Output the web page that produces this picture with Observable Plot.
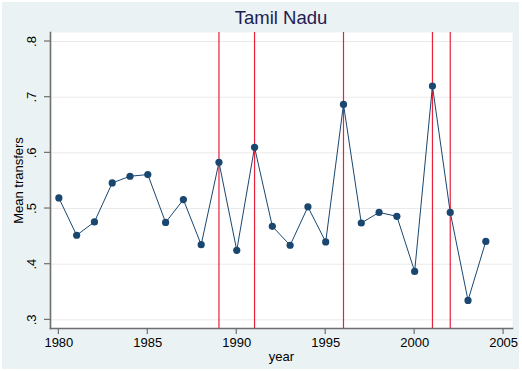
<!DOCTYPE html>
<html>
<head>
<meta charset="utf-8">
<script src="https://cdn.jsdelivr.net/npm/d3@7"></script>
<script src="https://cdn.jsdelivr.net/npm/@observablehq/plot@0.6"></script>
<style>
  html, body { margin: 0; padding: 0; background: #ffffff; }
  #wrap { position: relative; width: 522px; height: 371px; overflow: hidden; }
  #bg { position: absolute; left: 2px; top: 2px; width: 517px; height: 367px; background: #eaf2f3; }
  #title { position: absolute; left: 0; width: 562px; top: 7px; text-align: center;
           font-family: "Liberation Sans", Arial, sans-serif; font-size: 18.5px; color: #1e2052; }
  #chart { position: absolute; left: 0; top: 0; }
  #chart svg { background: transparent !important; }
</style>
</head>
<body>
<div id="wrap">
  <div id="bg"></div>
  <div id="title">Tamil Nadu</div>
  <div id="chart"></div>
</div>
<script>
const years = [1980,1981,1982,1983,1984,1985,1986,1987,1988,1989,1990,1991,1992,1993,1994,1995,1996,1997,1998,1999,2000,2001,2002,2003,2004];
const transfers = [0.519,0.452,0.476,0.546,0.558,0.561,0.475,0.516,0.435,0.583,0.425,0.610,0.468,0.434,0.503,0.440,0.687,0.474,0.493,0.486,0.387,0.720,0.493,0.335,0.441];
const eventYears = [1989,1991,1996,2001,2002];
const yTicks = [0.3,0.4,0.5,0.6,0.7,0.8];
const yTickLabels = [".3",".4",".5",".6",".7",".8"];
const xTicks = [1980,1985,1990,1995,2000,2005];

const data = years.map((y, i) => ({year: y, value: transfers[i]}));
const yt = yTicks.map((v, i) => ({v, label: yTickLabels[i]}));
const font = '"Liberation Sans", Arial, sans-serif';

const chart = Plot.plot({
  width: 522,
  height: 371,
  marginLeft: 50,
  marginRight: 10,
  marginTop: 32,
  marginBottom: 43,
  style: {background: "transparent", fontFamily: font, fontSize: "13px", color: "#000"},
  x: {domain: [1979.53, 2005.5], axis: null},
  y: {domain: [0.2845, 0.8162], axis: null},
  marks: [
    Plot.frame({fill: "#ffffff", stroke: null}),
    Plot.ruleY(yTicks, {stroke: "#eaeaea", strokeWidth: 1}),
    Plot.ruleX(eventYears, {stroke: "#e8203a", strokeWidth: 1.2}),
    Plot.line(data, {x: "year", y: "value", stroke: "#1a476f", strokeWidth: 1}),
    Plot.dot(data, {x: "year", y: "value", r: 3.6, fill: "#1a476f", stroke: null}),
    // axes lines
    Plot.frame({anchor: "left", stroke: "#6e6e6e", strokeWidth: 1.6}),
    Plot.frame({anchor: "bottom", stroke: "#6e6e6e", strokeWidth: 1.6}),
    // y ticks
    Plot.tickY(yTicks, {y: d => d, frameAnchor: "left", stroke: "#6e6e6e", strokeWidth: 1.2, dx: 0,
      render: (index, scales, values, dims, context) => {
        const g = d3.create("svg:g");
        for (const i of index) {
          const yy = values.y[i];
          g.append("line").attr("x1", dims.marginLeft - 6).attr("x2", dims.marginLeft)
            .attr("y1", yy).attr("y2", yy).attr("stroke", "#6e6e6e").attr("stroke-width", 1.2);
        }
        return g.node();
      }}),
    Plot.text(yt, {y: "v", text: "label", frameAnchor: "left", dx: -19, rotate: -90,
      fontSize: 13, fill: "#000", textAnchor: "middle", lineAnchor: "middle"}),
    // x ticks
    Plot.tickX(xTicks, {x: d => d,
      render: (index, scales, values, dims, context) => {
        const g = d3.create("svg:g");
        const yb = dims.height - dims.marginBottom;
        for (const i of index) {
          const xx = values.x[i];
          g.append("line").attr("x1", xx).attr("x2", xx)
            .attr("y1", yb).attr("y2", yb + 6).attr("stroke", "#6e6e6e").attr("stroke-width", 1.2);
        }
        return g.node();
      }}),
    Plot.text(xTicks, {x: d => d, text: d => String(d), frameAnchor: "bottom", dy: 14,
      fontSize: 13, fill: "#000", lineAnchor: "middle"}),
    // axis titles
    Plot.text(["year"], {frameAnchor: "bottom", dy: 28, text: d => d, fontSize: 13, fill: "#000", lineAnchor: "middle"}),
    Plot.text(["Mean transfers"], {frameAnchor: "left", dx: -32, rotate: -90, text: d => d,
      fontSize: 13, fill: "#000", textAnchor: "middle", lineAnchor: "middle"})
  ]
});
document.getElementById("chart").appendChild(chart);
</script>
</body>
</html>
